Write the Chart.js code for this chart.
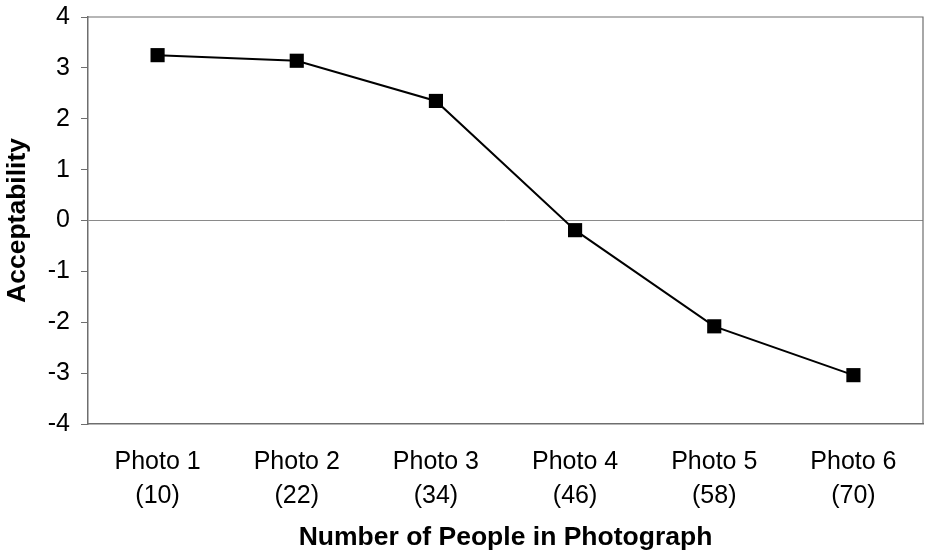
<!DOCTYPE html>
<html lang="en">
<head>
    <meta charset="UTF-8" />
    <title>Acceptability by Number of People</title>
    <script src="https://cdn.jsdelivr.net/npm/chart.js@4.4.0/dist/chart.umd.min.js"></script>
    <style>
        html, body { margin: 0; padding: 0; background: #fff; overflow: hidden; }
    </style>
</head>
<body>
    <canvas id="chart" width="925" height="555"></canvas>

    <script>
        // data
        const photoNames = ['Photo 1', 'Photo 2', 'Photo 3', 'Photo 4', 'Photo 5', 'Photo 6'];
        const peopleCounts = [10, 22, 34, 46, 58, 70];
        const acceptability = [3.25, 3.14, 2.35, -0.19, -2.08, -3.04];
        const yTicks = [-4, -3, -2, -1, 0, 1, 2, 3, 4];

        const labels = photoNames.map((name, i) => [name, '(' + peopleCounts[i] + ')']);

        // top and right edges of the plot box
        const frame = {
            id: 'frame',
            afterDraw(chart) {
                const { ctx, chartArea: a } = chart;
                ctx.save();
                ctx.strokeStyle = '#6e6e6e';
                ctx.lineWidth = 1.2;
                ctx.beginPath();
                ctx.moveTo(a.left, a.top);
                ctx.lineTo(a.right, a.top);
                ctx.lineTo(a.right, a.bottom);
                ctx.stroke();
                ctx.restore();
            }
        };

        const font = 'Liberation Sans, Arial, Helvetica, sans-serif';

        new Chart(document.getElementById('chart'), {
            type: 'line',
            data: {
                labels: labels,
                datasets: [{
                    data: acceptability,
                    borderColor: '#000',
                    borderWidth: 2,
                    pointStyle: 'rect',
                    pointRadius: 10,
                    pointBackgroundColor: '#000',
                    pointBorderColor: '#000',
                    pointBorderWidth: 0,
                    tension: 0
                }]
            },
            options: {
                responsive: false,
                animation: false,
                layout: { autoPadding: false, padding: { top: 17, right: 2, bottom: 0, left: 0 } },
                plugins: {
                    legend: { display: false },
                    tooltip: { enabled: false }
                },
                scales: {
                    x: {
                        offset: true,
                        grid: { display: false, drawTicks: false },
                        border: { display: true, color: '#6e6e6e', width: 1.5 },
                        ticks: {
                            color: '#000',
                            padding: 21,
                            maxRotation: 0,
                            font: { family: font, size: 25, lineHeight: 1.36 }
                        },
                        title: {
                            display: true,
                            text: 'Number of People in Photograph',
                            color: '#000',
                            padding: { top: 0, bottom: 1 },
                            font: { family: font, size: 26.5, weight: 'bold', lineHeight: 1.2 }
                        },
                        afterFit(scale) {
                            scale.height = 131;
                            scale.paddingLeft = 0;
                            scale.paddingRight = 0;
                        }
                    },
                    y: {
                        min: -4,
                        max: 4,
                        afterBuildTicks(scale) { scale.ticks = yTicks.map(v => ({ value: v })); },
                        grid: {
                            color: c => (c.tick && c.tick.value === 0) ? '#8a8a8a' : 'transparent',
                            lineWidth: 1,
                            tickColor: '#6e6e6e',
                            tickLength: 7,
                            drawTicks: true
                        },
                        border: { display: true, color: '#6e6e6e', width: 1.5 },
                        ticks: {
                            color: '#000',
                            padding: 11,
                            font: { family: font, size: 25 }
                        },
                        title: {
                            display: true,
                            text: 'Acceptability',
                            color: '#000',
                            padding: { top: 2, bottom: 0 },
                            font: { family: font, size: 26.5, weight: 'bold', lineHeight: 1.2 }
                        },
                        afterFit(scale) {
                            scale.width = 88;
                            scale.paddingTop = 0;
                            scale.paddingBottom = 0;
                        }
                    }
                }
            },
            plugins: [frame]
        });
    </script>
</body>
</html>
